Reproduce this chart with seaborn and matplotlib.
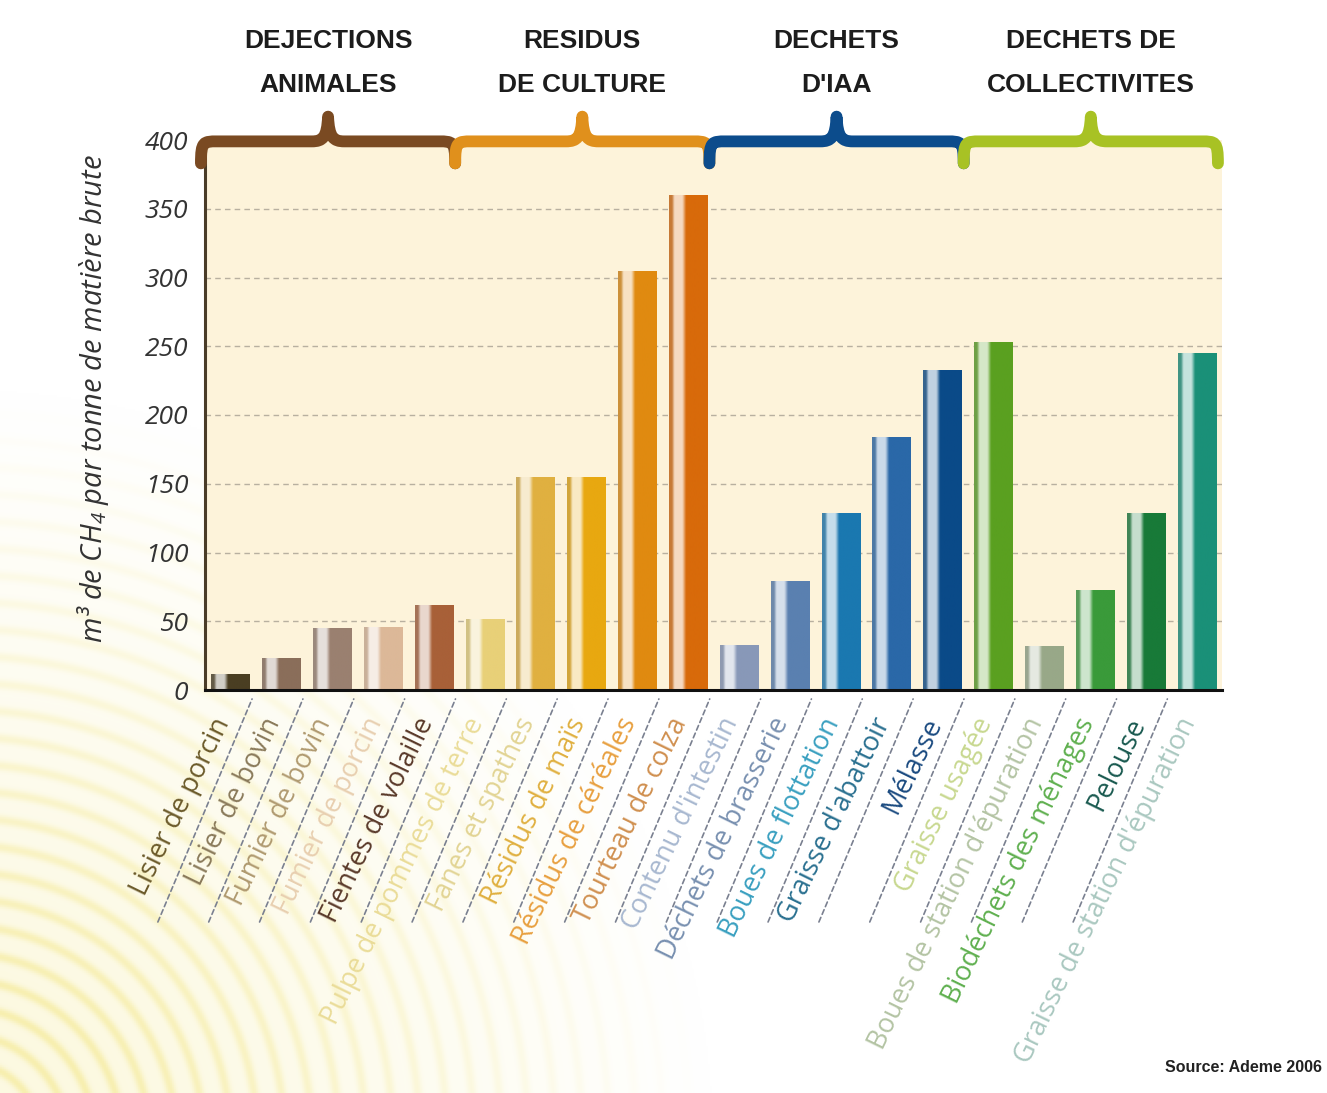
import numpy as np
import pandas as pd
import matplotlib
matplotlib.use("Agg")
import matplotlib.pyplot as plt
import matplotlib.colors as mcolors
from matplotlib.path import Path
from matplotlib.patches import PathPatch
from matplotlib.transforms import ScaledTranslation
import seaborn as sns

# ---- data -------------------------------------------------------------
substrats = [
    "Lisier de porcin", "Lisier de bovin", "Fumier de bovin", "Fumier de porcin",
    "Fientes de volaille", "Pulpe de pommes de terre", "Fanes et spathes",
    "Résidus de maïs", "Résidus de céréales", "Tourteau de colza",
    "Contenu d'intestin", "Déchets de brasserie", "Boues de flottation",
    "Graisse d'abattoir", "Mélasse", "Graisse usagée",
    "Boues de station d'épuration", "Biodéchets des ménages", "Pelouse",
    "Graisse de station d'épuration",
]
m3_ch4 = [12, 23, 45, 46, 62, 52, 155, 155, 305, 360,
          33, 79, 129, 184, 233, 253, 32, 73, 129, 245]

groupes = ["DEJECTIONS\nANIMALES", "RESIDUS\nDE CULTURE",
           "DECHETS\nD'IAA", "DECHETS DE\nCOLLECTIVITES"]
groupe_debut = [0, 5, 10, 15]
groupe_fin = [4, 9, 14, 19]
groupe_couleurs = ["#7a4a22", "#e0901c", "#0c4c8c", "#a8c224"]

bar_colors = ["#4a3e22", "#8a6e5a", "#9a8070", "#dcb898", "#a86038",
              "#e8d078", "#e0b040", "#e8a810", "#e08a10", "#d86a0a",
              "#8898b8", "#5a80b0", "#1a78b0", "#2a68a8", "#0a4a88",
              "#5aa020", "#98a888", "#3a9a3a", "#187a38", "#1a9078"]
label_colors = ["#6b5a2a", "#8a7a5a", "#b09a70", "#e8cfb0", "#5a3a2a",
                "#eadc98", "#e2d494", "#e0b040", "#e8a040", "#d09050",
                "#a8b8d0", "#7890b0", "#3aa0c0", "#2a7090", "#1a4a80",
                "#c8d890", "#b4c4a4", "#60b050", "#1a5a50", "#aac8c0"]

ylim_max = 400
yticks = list(range(0, 401, 50))

# ---- figure -----------------------------------------------------------
W, H = 1327, 1093
sns.set_style("white")
plt.rcParams["mathtext.default"] = "regular"

fig = plt.figure(figsize=(W / 100, H / 100), dpi=100)
fig.patch.set_facecolor("white")

# decorative concentric rings in the lower-left corner
bg = fig.add_axes([0, 0, 1, 1], zorder=-10)
bg.axis("off")
h2, w2 = H // 2, W // 2
yy, xx = np.mgrid[0:h2, 0:w2] * 2.0
r = np.hypot(xx + 40, yy - 1140)
ring = (0.5 + 0.5 * np.cos(2 * np.pi * r / 27.0)) ** 3
fade = np.clip(1 - (r - 150) / 600.0, 0, 1)
inten = (0.38 * ring + 0.22) * fade
yellow = np.array(mcolors.to_rgb("#f2e47a"))
img = np.ones((h2, w2, 3)) * (1 - inten[..., None]) + yellow * inten[..., None]
bg.imshow(img, extent=[0, 1, 0, 1], aspect="auto", origin="upper")

ax = fig.add_axes([205 / W, 1 - 690 / H, 1017 / W, 550 / H])
ax.set_facecolor("#fdf3da")

df = pd.DataFrame({"substrat": substrats, "m3": m3_ch4})
sns.barplot(data=df, x="substrat", y="m3", hue="substrat",
            palette=bar_colors, width=0.75, saturation=1,
            legend=False, ax=ax, zorder=3)

# shaded cylinder look on every bar
patches = sorted(ax.patches, key=lambda p: p.get_x())
for p, col in zip(patches, bar_colors):
    main = np.array(mcolors.to_rgb(col))
    edge = 0.7 * main + 0.3 * 0.62
    light = 0.25 * main + 0.75 * np.ones(3)
    stops = [0.0, 0.07, 0.14, 0.34, 0.44, 1.0]
    cols = np.array([edge, edge, light, light, main, main])
    xs = np.linspace(0, 1, 64)
    grad = np.stack([np.interp(xs, stops, cols[:, k]) for k in range(3)], axis=-1)
    x0, w, h = p.get_x(), p.get_width(), p.get_height()
    im = ax.imshow(grad[None, :, :], extent=[x0, x0 + w, 0, h],
                   aspect="auto", zorder=4, interpolation="bilinear")
    im.set_clip_path(p)
    p.set_edgecolor("none")

ax.set_xlim(-0.5, 19.5)
ax.set_ylim(0, ylim_max)
ax.set_aspect("auto")

# grid
for v in yticks[1:-1]:
    ax.axhline(v, color="#b8b0a0", lw=1.0, ls=(0, (4, 3)), zorder=1)

# spines and ticks
for s in ["top", "right"]:
    ax.spines[s].set_visible(False)
ax.spines["bottom"].set_color("#111111")
ax.spines["bottom"].set_linewidth(2.2)
ax.spines["left"].set_color("#4a3c28")
ax.spines["left"].set_linewidth(2.2)
ax.spines["bottom"].set_zorder(6)

txt_font = ["Open Sans", "DejaVu Sans"]
ax.set_yticks(yticks)
ax.set_yticklabels([str(v) for v in yticks], fontsize=19, style="italic",
                   color="#333333", family=txt_font)
ax.tick_params(axis="y", length=0, pad=12)

ax.set_xticks(range(len(substrats)))
ax.set_xticks(np.arange(0.5, 20, 1), minor=True)
ax.tick_params(axis="x", which="minor", direction="in", length=11,
               width=2.2, color="#1a1a1a")
ax.tick_params(axis="x", which="major", length=0, pad=21)
ax.set_xticklabels(substrats, rotation=64, ha="right", va="center",
                   rotation_mode="anchor", fontsize=19.5, family=txt_font)
shift = ScaledTranslation(-7 / 100, 0, fig.dpi_scale_trans)
for lab, c in zip(ax.get_xticklabels(), label_colors):
    lab.set_color(c)
    lab.set_transform(lab.get_transform() + shift)

ax.set_xlabel("")
ax.set_ylabel("m³ de CH$_4$ par tonne de matière brute", fontsize=21,
              style="italic", color="#333333", family=txt_font)
ax.yaxis.set_label_coords(-0.092, 0.53)

# dashed leader lines between the labels
xtr = ax.get_xaxis_transform()
for b in np.arange(0.5, 19, 1):
    ax.annotate("", xy=(b, 0), xycoords=xtr, xytext=(-98, -232),
                textcoords="offset pixels",
                arrowprops=dict(arrowstyle="-", ls=(0, (3, 2)),
                                color="#7a8090", lw=1.2,
                                shrinkA=0, shrinkB=7),
                annotation_clip=False)

# group braces and titles
def brace_path(x0, x1, yb, yt, ytip):
    xc = 0.5 * (x0 + x1)
    d = 0.32
    verts = [
        (x0, ytip), (x0, yb), (x0 + 0.05, yb), (x0 + d, yb),
        (xc - d, yb),
        (xc - 0.1, yb), (xc - 0.02, yb + 3), (xc, yt),
        (xc + 0.02, yb + 3), (xc + 0.1, yb), (xc + d, yb),
        (x1 - d, yb),
        (x1 - 0.05, yb), (x1, yb), (x1, ytip),
    ]
    codes = [Path.MOVETO, Path.CURVE4, Path.CURVE4, Path.CURVE4,
             Path.LINETO,
             Path.CURVE4, Path.CURVE4, Path.CURVE4,
             Path.CURVE4, Path.CURVE4, Path.CURVE4,
             Path.LINETO,
             Path.CURVE4, Path.CURVE4, Path.CURVE4]
    return Path(verts, codes)

title_font = ["Liberation Sans", "DejaVu Sans"]
for g, a, b, c in zip(groupes, groupe_debut, groupe_fin, groupe_couleurs):
    x0, x1 = a - 0.58, b + 0.42
    pp = PathPatch(brace_path(x0, x1, 399, 417, 383), facecolor="none",
                   edgecolor=c, lw=8.5, capstyle="round", joinstyle="round",
                   clip_on=False, zorder=7)
    ax.add_patch(pp)
    xc = 0.5 * (x0 + x1)
    l1, l2 = g.split("\n")
    ax.text(xc, 472, l1, ha="center", va="center", fontsize=19,
            fontweight="bold", family=title_font, color="#1c1c1c",
            clip_on=False)
    ax.text(xc, 440, l2, ha="center", va="center", fontsize=19,
            fontweight="bold", family=title_font, color="#1c1c1c",
            clip_on=False)

fig.text(1322 / W, 1 - 1068 / H, "Source: Ademe 2006", fontsize=11.5,
         fontweight="bold", family=title_font, color="#222222",
         ha="right", va="center")

fig.savefig("out.png", dpi=100)
